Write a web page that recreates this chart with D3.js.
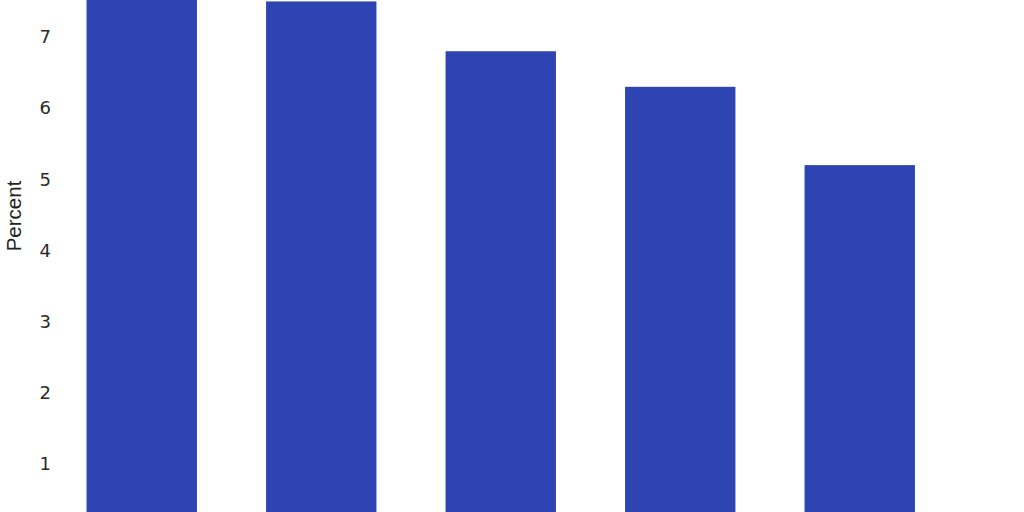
<!DOCTYPE html>
<html>
<head>
<meta charset="utf-8">
<script src="https://cdn.jsdelivr.net/npm/d3@7"></script>
<style>
  html, body { margin: 0; padding: 0; background: #fff; overflow: hidden; }
  svg { display: block; }
</style>
</head>
<body>
<script>
// values (the chart is cropped: top of bar 1 and the x axis fall outside)
var categories = ['A', 'B', 'C', 'D', 'E'];
var values = [7.9, 7.5, 6.8, 6.3, 5.2];
var tickValues = [1, 2, 3, 4, 5, 6, 7];

var w = 1024,
    h = 512;

var svg = d3.select('body').append('svg')
    .attr('width', w)
    .attr('height', h);

var x = d3.scaleBand()
    .domain(categories)
    .range([52, 949.5])
    .paddingInner(0.385)
    .paddingOuter(0.1925);

var y = d3.scaleLinear()
    .domain([0, 8])
    .range([535.2, 535.2 - 8 * 71.17]);

svg.append('g')
    .selectAll('rect')
    .data(values)
    .enter().append('rect')
    .attr('x', function(d, i) { return x(categories[i]); })
    .attr('y', function(d) { return y(d); })
    .attr('width', x.bandwidth())
    .attr('height', function(d) { return y(0) - y(d); })
    .style('fill', '#2f44b3');

var yAxis = d3.axisLeft(y)
    .tickValues(tickValues)
    .tickSize(0)
    .tickPadding(0)
    .tickFormat(d3.format('d'));

var gy = svg.append('g')
    .attr('transform', 'translate(51,0)')
    .call(yAxis);
gy.select('.domain').remove();
gy.selectAll('text')
    .style('font-family', '"DejaVu Sans", sans-serif')
    .style('font-size', '18px')
    .style('fill', '#2a2a2a');

svg.append('text')
    .attr('transform', 'translate(21,216) rotate(-90)')
    .attr('text-anchor', 'middle')
    .style('font-family', '"Liberation Sans", Arial, sans-serif')
    .style('font-size', '20.5px')
    .style('fill', '#222')
    .text('Percent');
</script>
</body>
</html>
